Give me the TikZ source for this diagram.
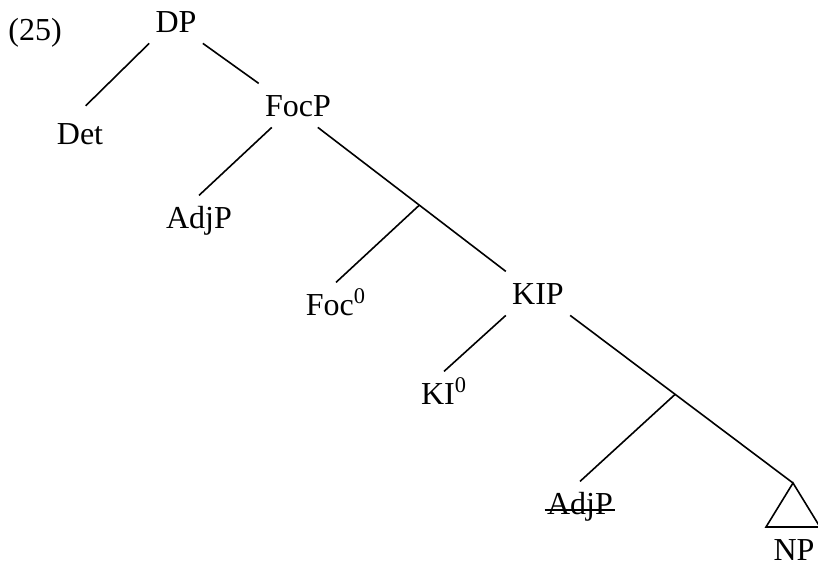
\documentclass[tikz,border=0pt]{standalone}
\usepackage{fontspec}
\setmainfont{Liberation Serif}

\begin{document}
\begin{tikzpicture}[x=0.5pt,y=-0.5pt,font=\fontsize{16}{19}\selectfont,
 cat/.style={anchor=base,inner sep=3pt,text height=13.6pt,text depth=2pt},
 branch/.style={line width=0.8pt}]
\useasboundingbox (0,0) rectangle (818,565);
\node[anchor=base west,inner sep=0pt] (ex) at (8,41) {(25)};
% categories
\node[cat] (DP) at (176,33) {DP};
\node[cat] (Det) at (80,145) {Det};
\node[cat] (FocP) at (298,117) {FocP};
\node[cat] (AdjP) at (199,229) {AdjP};
\node[cat] (Foc0) at (336,316) {Foc\textsuperscript{0}};
\node[cat] (KIP) at (538,305) {KIP};
\node[cat] (KI0) at (444,405) {KI\textsuperscript{0}};
\node[cat] (AdjS) at (580,515) {AdjP};
\node[cat] (NP) at (794,560) {NP};
% unlabelled branch points sit on the long right branches
\coordinate (tip) at (793,483);
\path (FocP.-48) -- coordinate[pos=.54] (X1) (KIP.north west);
\path (KIP.south east) -- coordinate[pos=.471] (X2) (tip);
% branches
\begin{scope}[branch]
\draw[shorten >=4pt] (DP.south west) -- (Det.north);
\draw (DP.south east) -- (FocP.north west);
\draw (FocP.220) -- (AdjP.north);
\draw (FocP.-48) -- (X1) -- (KIP.north west);
\draw (X1) -- (Foc0.north);
\draw (KIP.south west) -- (KI0.north);
\draw (KIP.south east) -- (X2) -- (tip);
\draw (X2) -- (AdjS.north);
\draw (tip) -- ++(-27,44) -- ++(54,0) -- cycle;
\end{scope}
% deleted copy of the adjective phrase
\draw[line width=0.7pt,shorten <=2pt,shorten >=2pt]
 ([yshift=2.5pt]AdjS.base west) -- ([yshift=2.5pt]AdjS.base east);
\end{tikzpicture}
\end{document}
